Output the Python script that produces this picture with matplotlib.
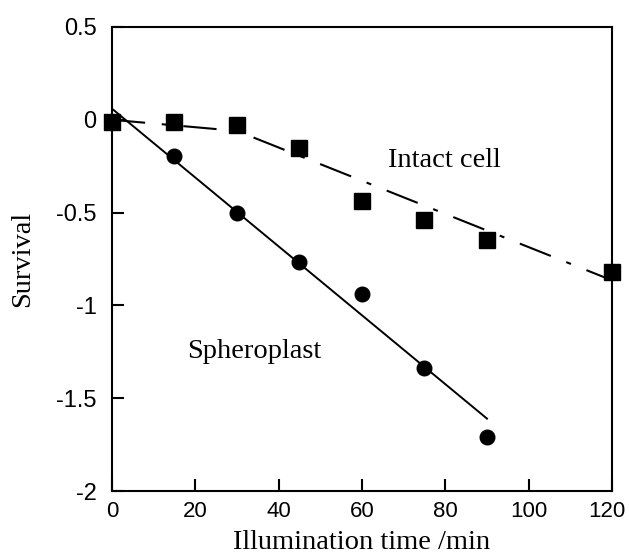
import matplotlib.pyplot as plt
import matplotlib.transforms as mtransforms

# data
t_sq = [0, 15, 30, 45, 60, 75, 90, 120]
intact = [-0.01, -0.01, -0.03, -0.15, -0.44, -0.54, -0.65, -0.82]
t_ci = [15, 30, 45, 60, 75, 90]
sphero = [-0.195, -0.50, -0.765, -0.94, -1.335, -1.71]

# fitted lines
fit_intact_x = [0, 30, 120]
fit_intact_y = [0.0, -0.06, -0.865]
fit_sphero_x = [0, 90]
fit_sphero_y = [0.06, -1.61]

serif = 'Liberation Serif'
sans = 'Liberation Sans'

fig = plt.figure(figsize=(6.29, 5.54), dpi=100)
ax = fig.add_axes([0.178, 0.1137, 0.795, 0.8376])

ax.plot(fit_sphero_x, fit_sphero_y, color='black', lw=1.4)
ax.plot(fit_intact_x, fit_intact_y, color='black', lw=1.5,
        dashes=[16, 8, 2.4, 8])
ax.plot(t_ci, sphero, 'o', color='black', ms=10.5, clip_on=False)
ax.plot(t_sq, intact, 's', color='black', ms=11, clip_on=False)

ax.text(66.2, -0.217, 'Intact cell', family=serif, fontsize=20.5, va='center')
ax.text(18.0, -1.25, 'Spheroplast', family=serif, fontsize=20.5, va='center')

ax.set_xlim(0, 120)
ax.set_ylim(-2, 0.5)
ax.set_xticks([0, 20, 40, 60, 80, 100, 120])
ax.set_yticks([-2, -1.5, -1, -0.5, 0, 0.5])
ax.set_yticklabels(['-2', '-1.5', '-1', '-0.5', '0', '0.5'])
ax.tick_params(direction='in', length=8.5, width=1.5)
ax.tick_params(axis='x', labelsize=16, pad=7)
ax.tick_params(axis='y', labelsize=17, pad=11)
for lab in ax.get_xticklabels() + ax.get_yticklabels():
    lab.set_family(sans)
for s in ax.spines.values():
    s.set_linewidth(1.5)

# nudge the last x tick label so it stays inside the figure
last = ax.get_xticklabels()[-1]
last.set_transform(last.get_transform() +
                   mtransforms.ScaledTranslation(-4 / 72, 0, fig.dpi_scale_trans))

ax.set_xlabel('Illumination time /min', family=serif, fontsize=20.5, labelpad=6)
ax.set_ylabel('Survival', family=serif, fontsize=20.5, labelpad=15)

plt.savefig('out.png', dpi=100)
